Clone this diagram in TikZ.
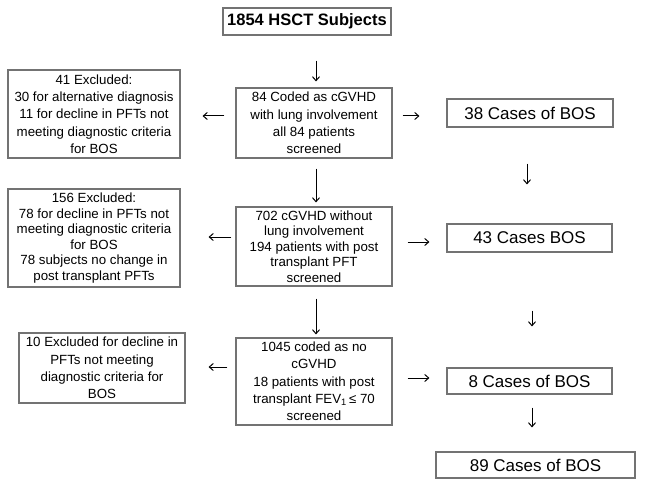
\documentclass[tikz,border=0pt]{standalone}
\usepackage{fontspec}
\setmainfont{Liberation Sans}
\usetikzlibrary{arrows.meta}
\begin{document}
\begin{tikzpicture}[x=1pt,y=-1pt,
  box/.style={draw=black!55, line width=1.1pt, align=center, inner sep=0pt,
    font=\fontsize{13.3}{17.3}\selectfont, text=black},
  tightbox/.style={box, font=\fontsize{13.3}{15.6}\selectfont},
  bigbox/.style={box, font=\fontsize{17}{20}\selectfont},
  arr/.style={line width=1pt, -{Straight Barb[length=4pt,width=7pt,line width=1pt]}}]
\useasboundingbox[fill=white] (0,0) rectangle (645,489);

\node[bigbox, font=\fontsize{16.5}{20}\selectfont\bfseries, minimum width=168pt, minimum height=27pt] (top) at (307,21.5) {1854 HSCT Subjects};

\node[box, minimum width=156pt, minimum height=70pt] (n84) at (314,123)
  {84 Coded as cGVHD\\with lung involvement\\all 84 patients\\screened};
\node[box, minimum width=172pt, minimum height=88pt] (ex41) at (94,114)
  {41 Excluded:\\30 for alternative diagnosis\\11 for decline in PFTs not\\meeting diagnostic criteria\\for BOS};
\node[bigbox, minimum width=166pt, minimum height=28pt] (b38) at (530,113) {38 Cases of BOS};

\node[tightbox, minimum width=156pt, minimum height=79pt] (n702) at (314,246.5)
  {702 cGVHD without\\lung involvement\\194 patients with post\\transplant PFT\\screened};
\node[tightbox, minimum width=172pt, minimum height=98pt] (ex156) at (94,238)
  {156 Excluded:\\78 for decline in PFTs not\\meeting diagnostic criteria\\for BOS\\78 subjects no change in\\post transplant PFTs};
\node[bigbox, minimum width=165pt, minimum height=28pt] (b43) at (529.5,238) {43 Cases BOS};

\node[box, minimum width=156pt, minimum height=87pt] (n1045) at (314,381.5)
  {1045 coded as no\\cGVHD\\18 patients with post\\transplant FEV\textsubscript{1}\,≤ 70\\screened};
\node[box, minimum width=166pt, minimum height=70pt] (ex10) at (102,368)
  {10 Excluded for decline in\\PFTs not meeting\\diagnostic criteria for\\BOS};
\node[bigbox, minimum width=165pt, minimum height=26pt] (b8) at (529.5,381) {8 Cases of BOS};
\node[bigbox, minimum width=199pt, minimum height=26pt] (b89) at (535.5,465) {89 Cases of BOS};

% vertical arrows in the middle column
\draw[arr, shorten <=25pt, shorten >=6pt] ([xshift=2pt]top.south -| n84.north) -- ([xshift=2pt]n84.north);
\draw[arr, shorten <=10pt, shorten >=4pt] ([xshift=2pt]n84.south) -- ([xshift=2pt]n702.north);
\draw[arr, shorten <=12pt, shorten >=3pt] ([xshift=2pt]n702.south) -- ([xshift=2pt]n1045.north);

% left arrows
\draw[arr, shorten <=11pt, shorten >=22pt] ([yshift=7pt]n84.west) -- ([yshift=7pt]n84.west -| ex41.east);
\draw[arr, shorten <=4pt, shorten >=28pt] ([yshift=9.5pt]n702.west) -- ([yshift=9.5pt]n702.west -| ex156.east);
\draw[arr, shorten <=8pt, shorten >=23pt] ([yshift=14.5pt]n1045.west) -- ([yshift=14.5pt]n1045.west -| ex10.east);

% right arrows
\draw[arr, shorten <=10pt, shorten >=27pt] ([yshift=7pt]n84.east) -- ([yshift=7pt]n84.east -| b38.west);
\draw[arr, shorten <=15pt, shorten >=17pt] ([yshift=4.5pt]n702.east) -- ([yshift=4.5pt]n702.east -| b43.west);
\draw[arr, shorten <=15pt, shorten >=17pt] ([yshift=3.5pt]n1045.east) -- ([yshift=3.5pt]n1045.east -| b8.west);

% right column arrows
\draw[arr, shorten <=36pt, shorten >=39pt] ([xshift=-3pt]b38.south) -- ([xshift=-3pt]b38.south |- b43.north);
\draw[arr, shorten <=58pt, shorten >=41pt] ([xshift=2.5pt]b43.south) -- ([xshift=2.5pt]b43.south |- b8.north);
\draw[arr, shorten <=13pt, shorten >=24pt] ([xshift=2.5pt]b8.south) -- ([xshift=2.5pt]b8.south |- b89.north);
\end{tikzpicture}
\end{document}
